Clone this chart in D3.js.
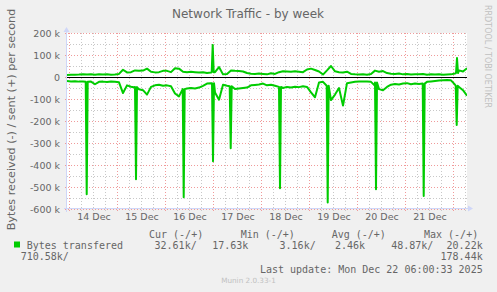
<!DOCTYPE html>
<html>
<head>
<meta charset="utf-8">
<script src="https://cdn.jsdelivr.net/npm/d3@7"></script>
<style>
body { margin: 0; background: #f0f0f0; }
svg { display: block; }
</style>
</head>
<body>
<svg width="497" height="292"></svg>
<script>
var width = 497;
var height = 292;
var plotLeft = 67, plotRight = 467, plotTop = 33, plotBottom = 209;

// samples every 2 hours from the start of the window, values in k bytes/s
var startTime = new Date(2025, 11, 13, 22, 45);
var endTime = new Date(2025, 11, 22, 6, 45);
var stepHours = 2;

var sentValues = [
  9, 10, 10, 11, 13, 11, 12, 10, 12, 11,
  12, 10, 11, 14, 33, 21, 22, 30, 28, 29,
  38, 24, 21, 22, 28, 28, 22, 40, 38, 24,
  22, 24, 22, 20, 22, 18, 20, 22, 45, 12,
  14, 30, 28, 27, 25, 18, 15, 14, 16, 14,
  12, 17, 14, 22, 26, 25, 24, 26, 24, 22,
  34, 38, 32, 25, 11, 30, 50, 26, 22, 20,
  24, 14, 12, 11, 12, 10, 14, 29, 24, 27,
  18, 15, 14, 16, 12, 14, 11, 13, 12, 14,
  10, 12, 11, 13, 10, 11, 12, 16, 30, 25,
  40
];
var receivedValues = [
  -18, -20, -19, -21, -20, -22, -21, -33, -22, -21,
  -23, -20, -22, -24, -73, -38, -44, -48, -56, -60,
  -80, -45, -38, -35, -40, -38, -42, -75, -88, -55,
  -52, -50, -52, -48, -40, -30, -28, -70, -103, -35,
  -40, -45, -55, -52, -50, -48, -38, -36, -34, -30,
  -38, -35, -40, -45, -50, -45, -48, -44, -46, -42,
  -45, -70, -92, -25, -22, -25, -105, -80, -50, -130,
  -28, -25, -22, -20, -20, -20, -22, -40, -55, -60,
  -45, -35, -32, -34, -30, -28, -33, -30, -32, -30,
  -22, -20, -18, -16, -15, -14, -15, -35, -45, -60,
  -85
];

// short spikes (hours after start, peak value, level around the spike)
var sentSpikeHours = [72.85, 195];
var sentSpikePeaks = [146, 86];
var sentSpikeBase = [22, 18];
var recvSpikeHours = [9.85, 34.5, 58.35, 73, 81.85, 106.5, 130.35, 154.5, 178.35, 194.85];
var recvSpikePeaks = [-533, -465, -547, -383, -324, -506, -570, -510, -541, -218];
var recvSpikeBase = [-22, -46, -55, -28, -42, -45, -40, -25, -30, -40];

var yTicks = [200, 100, 0, -100, -200, -300, -400, -500, -600];
var yTickLabels = ['200 k', '100 k', '0', '-100 k', '-200 k', '-300 k', '-400 k', '-500 k', '-600 k'];
var dayLabels = ['14 Dec', '15 Dec', '16 Dec', '17 Dec', '18 Dec', '19 Dec', '20 Dec', '21 Dec'];

var legendName = 'Bytes transfered';
var legendHeads = ['Cur (-/+)', 'Min (-/+)', 'Avg (-/+)', 'Max (-/+)'];
var legendRow1 = ['32.61k/', '17.63k', '3.16k/', '2.46k', '48.87k/', '20.22k'];
var legendRow2 = ['710.58k/', '178.44k'];
var lastUpdate = 'Last update: Mon Dec 22 06:00:33 2025';

var green = '#00cc00';
var fontColor = '#666';

var svg = d3.select('svg');

var x = d3.scaleTime().domain([startTime, endTime]).range([plotLeft, plotRight]);
var y = d3.scaleLinear().domain([-600, 200]).range([plotBottom, plotTop]);

function buildSeries(values, spikeHours, spikePeaks, spikeBase) {
  var pts = [];
  values.forEach(function(v, i) {
    var h = i * stepHours;
    var near = spikeHours.some(function(s) { return Math.abs(s - h) < 0.5; });
    if (!near) pts.push({h: h, v: v});
  });
  spikeHours.forEach(function(h, i) {
    pts.push({h: h - 0.5, v: spikeBase[i]});
    pts.push({h: h, v: spikePeaks[i]});
    pts.push({h: h + 0.5, v: spikeBase[i]});
  });
  pts.sort(function(a, b) { return a.h - b.h; });
  return pts.map(function(p) {
    return {t: new Date(+startTime + p.h * 3600 * 1000), v: p.v};
  });
}

var sentSeries = buildSeries(sentValues, sentSpikeHours, sentSpikePeaks, sentSpikeBase);
var recvSeries = buildSeries(receivedValues, recvSpikeHours, recvSpikePeaks, recvSpikeBase);

// canvas
svg.append('rect')
  .attr('x', plotLeft).attr('y', plotTop)
  .attr('width', plotRight - plotLeft).attr('height', plotBottom - plotTop)
  .attr('fill', '#fff');

// grid
var hLines = d3.range(-600, 201, 50);
var vLines = d3.timeHour.every(6).range(startTime, endTime);

var grid = svg.append('g');
grid.selectAll('line.hminor').data(hLines.filter(function(d) { return d % 100 !== 0; })).enter()
  .append('line')
  .attr('x1', plotLeft).attr('x2', plotRight)
  .attr('y1', function(d) { return Math.round(y(d)) + 0.5; })
  .attr('y2', function(d) { return Math.round(y(d)) + 0.5; })
  .attr('stroke', '#c8c8c8').attr('stroke-dasharray', '1,2');
grid.selectAll('line.vminor').data(vLines.filter(function(d) { return d.getHours() !== 0; })).enter()
  .append('line')
  .attr('x1', function(d) { return Math.floor(x(d)) + 0.5; })
  .attr('x2', function(d) { return Math.floor(x(d)) + 0.5; })
  .attr('y1', plotTop).attr('y2', plotBottom + 2)
  .attr('stroke', '#c8c8c8').attr('stroke-dasharray', '1,2');
grid.selectAll('line.hmajor').data(hLines.filter(function(d) { return d % 100 === 0; })).enter()
  .append('line')
  .attr('x1', plotLeft - 2).attr('x2', plotRight)
  .attr('y1', function(d) { return Math.round(y(d)) + 0.5; })
  .attr('y2', function(d) { return Math.round(y(d)) + 0.5; })
  .attr('stroke', '#f09a9a').attr('stroke-dasharray', '1,2');
grid.selectAll('line.vmajor').data(vLines.filter(function(d) { return d.getHours() === 0; })).enter()
  .append('line')
  .attr('x1', function(d) { return Math.floor(x(d)) + 0.5; })
  .attr('x2', function(d) { return Math.floor(x(d)) + 0.5; })
  .attr('y1', plotTop).attr('y2', plotBottom + 3)
  .attr('stroke', '#f09a9a').attr('stroke-dasharray', '1,2');

// data
svg.append('clipPath').attr('id', 'plotclip')
  .append('rect')
  .attr('x', plotLeft).attr('y', plotTop - 2)
  .attr('width', plotRight - plotLeft).attr('height', plotBottom - plotTop + 4);

var line = d3.line()
  .x(function(d) { return x(d.t); })
  .y(function(d) { return y(d.v); });

var dataGroup = svg.append('g').attr('clip-path', 'url(#plotclip)');
[recvSeries, sentSeries].forEach(function(series) {
  dataGroup.append('path')
    .datum(series)
    .attr('d', line)
    .attr('fill', 'none')
    .attr('stroke', green)
    .attr('stroke-width', 2)
    .attr('stroke-linejoin', 'round');
});

// zero rule
svg.append('line')
  .attr('x1', plotLeft).attr('x2', plotRight)
  .attr('y1', y(0) + 0.5).attr('y2', y(0) + 0.5)
  .attr('stroke', '#000');

// axes lines and arrows
var axisColor = '#cfd6f8';
svg.append('line')
  .attr('x1', plotLeft - 0.5).attr('x2', plotLeft - 0.5)
  .attr('y1', plotBottom + 3).attr('y2', plotTop - 3)
  .attr('stroke', axisColor);
svg.append('line')
  .attr('x1', plotLeft - 3).attr('x2', plotRight + 2)
  .attr('y1', plotBottom - 0.5).attr('y2', plotBottom - 0.5)
  .attr('stroke', axisColor);
svg.append('path')
  .attr('d', 'M' + (plotLeft - 3.5) + ',' + (plotTop - 1) + 'L' + (plotLeft + 2.5) + ',' + (plotTop - 1) + 'L' + (plotLeft - 0.5) + ',' + (plotTop - 6) + 'Z')
  .attr('fill', axisColor);
svg.append('path')
  .attr('d', 'M' + (plotRight + 1) + ',' + (plotBottom - 3.5) + 'L' + (plotRight + 1) + ',' + (plotBottom + 2.5) + 'L' + (plotRight + 6) + ',' + (plotBottom - 0.5) + 'Z')
  .attr('fill', axisColor);

// tick labels
var yAxis = d3.axisLeft(y).tickValues(yTicks)
  .tickFormat(function(d, i) { return yTickLabels[i]; })
  .tickSize(0).tickPadding(7);
var gy = svg.append('g').attr('transform', 'translate(' + plotLeft + ',0)').call(yAxis);
gy.select('.domain').remove();
gy.selectAll('text').attr('font-family', 'DejaVu Sans').attr('font-size', '9.5px').attr('fill', fontColor);

var dayNoons = d3.timeDay.range(new Date(2025, 11, 14), new Date(2025, 11, 22))
  .map(function(d) { return d3.timeHour.offset(d, 12); });
var xAxis = d3.axisBottom(x).tickValues(dayNoons)
  .tickFormat(function(d, i) { return dayLabels[i]; })
  .tickSize(0).tickPadding(4);
var gx = svg.append('g').attr('transform', 'translate(0,' + plotBottom + ')').call(xAxis);
gx.select('.domain').remove();
gx.selectAll('text').attr('font-family', 'DejaVu Sans').attr('font-size', '9.5px').attr('fill', fontColor);

// title and side texts
svg.append('text')
  .attr('x', 248).attr('y', 18)
  .attr('text-anchor', 'middle')
  .attr('font-family', 'DejaVu Sans').attr('font-size', '12px')
  .attr('fill', fontColor)
  .text('Network Traffic - by week');

svg.append('text')
  .attr('transform', 'translate(15,119.5) rotate(-90)')
  .attr('text-anchor', 'middle')
  .attr('font-family', 'DejaVu Sans').attr('font-size', '11.2px')
  .attr('fill', fontColor)
  .text('Bytes received (-) / sent (+) per second');

svg.append('text')
  .attr('transform', 'translate(485,5) rotate(90)')
  .attr('font-family', 'DejaVu Sans').attr('font-size', '8px')
  .attr('fill', '#c0c0c0')
  .text('RRDTOOL / TOBI OETIKER');

// legend
var mono = 'DejaVu Sans Mono';
var legend = svg.append('g')
  .attr('font-family', mono).attr('font-size', '10px').attr('fill', fontColor);

var headX = [149, 240.7, 331.7, 424];
legend.selectAll('text.head').data(legendHeads).enter()
  .append('text')
  .attr('x', function(d, i) { return headX[i]; })
  .attr('y', 237.5)
  .text(function(d) { return d; });

svg.append('rect')
  .attr('x', 14).attr('y', 241.5).attr('width', 6).attr('height', 6)
  .attr('fill', green);

legend.append('text').attr('x', 26.7).attr('y', 248.5).text(legendName);

var row1End = [196.7, 248.3, 315.7, 365, 433.3, 482.7];
legend.selectAll('text.row1').data(legendRow1).enter()
  .append('text')
  .attr('x', function(d, i) { return row1End[i]; })
  .attr('y', 248.5)
  .attr('text-anchor', 'end')
  .text(function(d) { return d; });

legend.append('text').attr('x', 20.7).attr('y', 260).text(legendRow2[0]);
legend.append('text').attr('x', 482.7).attr('y', 260).attr('text-anchor', 'end').text(legendRow2[1]);
legend.append('text').attr('x', 482.7).attr('y', 272.5).attr('text-anchor', 'end').text(lastUpdate);

svg.append('text')
  .attr('x', 248.5).attr('y', 283)
  .attr('text-anchor', 'middle')
  .attr('font-family', 'DejaVu Sans').attr('font-size', '7.25px')
  .attr('fill', '#c0c0c0')
  .text('Munin 2.0.33-1');
</script>
</body>
</html>
